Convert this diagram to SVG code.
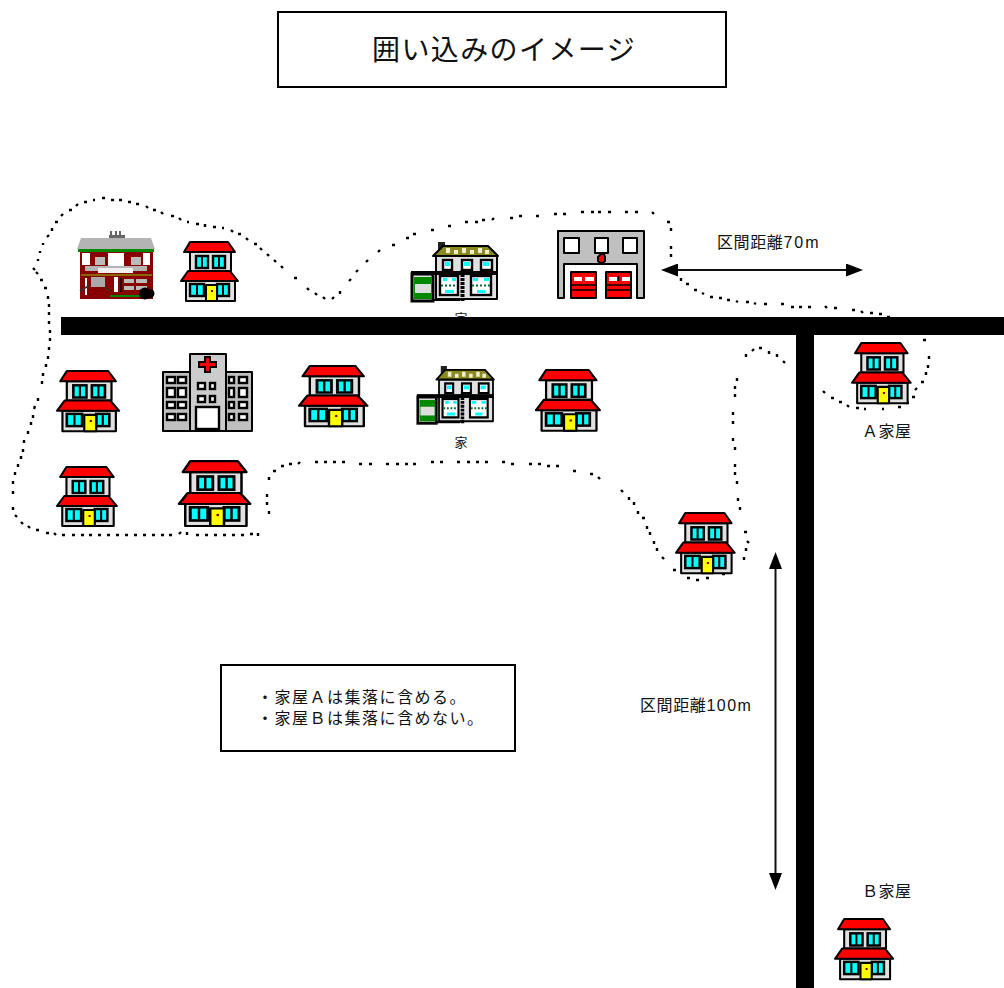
<svg xmlns="http://www.w3.org/2000/svg" width="1004" height="988" viewBox="0 0 1004 988">
<style>
text{font-family:"Liberation Sans","Noto Sans CJK JP",sans-serif;fill:#111}
.box{fill:#fff;stroke:#000;stroke-width:2}
.k{stroke:#000;stroke-width:2;stroke-linejoin:round}
.f{stroke:#000;stroke-width:2.400;stroke-linejoin:miter}
.t{font-size:16px}
.dot{fill:none;stroke:#000;stroke-width:2.400}
.arrow{fill:none;stroke:#111;stroke-width:2}
.w{fill:#fff}.g{fill:#c0c0c0}.lg{fill:#e0e0e0}.r{fill:#f00}.c{fill:#0ff}.y{fill:#ff0}
</style>
<defs>
<marker id="ah" markerWidth="17" markerHeight="13" refX="9" refY="6.500" orient="auto-start-reverse" markerUnits="userSpaceOnUse" viewBox="0 0 17 13"><path d="M0 0L17 6.500L0 13Z" fill="#000"/></marker>
<g id="house">
<rect class="k lg" x="9" y="11" width="41" height="19"/>
<path class="k r" d="M9 1H47L54 11H3Z"/>
<rect class="f c" x="15" y="15" width="12" height="12"/><path class="k" d="M21 15V27" fill="none"/>
<rect class="f c" x="32" y="15" width="12" height="12"/><path class="k" d="M38 15V27" fill="none"/>
<rect class="k lg" x="5" y="40" width="49" height="20"/>
<path class="k r" d="M7 30H49L57 40H0Z"/>
<rect class="f c" x="9" y="43" width="14" height="12"/><path class="k" d="M16 43V55" fill="none"/>
<rect class="f c" x="36" y="43" width="12" height="12"/><path class="k" d="M42 43V55" fill="none"/>
<rect class="k y" x="25" y="44" width="11" height="16"/>
<rect x="30" y="49" width="2" height="2" fill="#800"/>
</g>
<g id="green">
<rect x="28" y="0" width="7" height="10" fill="#222"/>
<path class="k lg" d="M26 14H87V57H26Z"/>
<path class="k" d="M23 14L33 4H78L88 14Z" fill="#8a8a20"/>
<path d="M36 6h4v5h-4zM44 8h4v4h-4zM52 6h4v5h-4zM60 8h4v4h-4zM68 6h4v5h-4zM75 8h4v4h-4z" fill="#f0f0d0"/>
<g class="f w"><rect x="33" y="18" width="9" height="10"/><rect x="52" y="18" width="10" height="10"/><rect x="71" y="18" width="11" height="10"/></g>
<path d="M35 20h5v4h-5zM54 20h6v4h-6zM73 20h6v4h-6z" fill="#0ff"/>
<rect x="1" y="29" width="87" height="4" fill="#000"/>
<rect x="2" y="32" width="21" height="27" fill="#e0e0e0" stroke="#000" stroke-width="3"/>
<rect x="4" y="35" width="18" height="22" fill="#080"/><rect x="5" y="42" width="16" height="9" fill="#ddd"/>
<g class="f w"><rect x="30" y="34" width="18" height="19"/><rect x="61" y="34" width="20" height="19"/></g>
<path d="M33 36h4v3h-4zM42 36h4v3h-4zM35 48h9v3h-9zM63 36h5v3h-5zM74 36h5v3h-5zM67 48h8v3h-8z" fill="#0ff"/>
<path d="M31 43.500H47M62 43.500H80" stroke="#063" stroke-width="2" stroke-dasharray="2 2"/>
<path d="M23 58H50" stroke="#000" stroke-width="2"/>
<path d="M52.500 28V59" stroke="#000" stroke-width="4" stroke-dasharray="3 1"/>
</g>
</defs>

<g id="title"><rect class="box" x="278" y="12" width="448" height="75"/><text x="372" y="60" font-size="28" letter-spacing="1.400">囲い込みのイメージ</text></g>

<g id="label-ie1"><text x="461" y="323" text-anchor="middle" style="font-size:13px">家</text></g>

<g id="roads"><rect x="61" y="317" width="943" height="18" fill="#000"/><rect x="796" y="317" width="18" height="671" fill="#000"/></g>

<g id="connectors">
<path class="dot" d="M258 533v3M250 534h3M241 535h3M232 535h3M223 535h3M214 535h3M205 535h3M196 535h3M187 532v3M179 534l2 -2M169 535h3M161 535h3M152 535h3M143 535h3M134 535h3M125 535h3M116 535h3M107 535h3M98 535h3M89 535h3M81 535h3M72 535h3M62 535h3M54 533l2 2M46 533h3M36 530h3M28 526l2 2M21 522l2 2M15 515l2 2M13 507v3M13 491v3M13 481v3M15 472v3M18 464v3M21 456v3M23 449v3M24 440v3M28 431v3M31 422v3M33 415v3M35 406l-1 3M38 398v3M42 381v3M43 373v3M46 364v3M48 356v3M49 347v3M50 338v3M50 330v3M49 321v3M49 312v3M49 304v3M48 296v3M44 288h3M40 280h3M36 272l2 2M33 268l2 2M38 259v2M40 251v2M43 243v2M47 237l2 -2M52 228v3M55 222h3M61 216l2 -2M69 210h3M76 206l2 -2M84 202h3M93 200h2M102 198h3M111 200h3M119 200h3M128 202h3M136 204h3M146 206l2 2M153 210h3M161 212l2 2M171 216h3M179 218l2 2M187 222h2M196 224h3M205 224v3M213 227h3M222 228h2M231 230l2 2M238 234h3M246 238l2 2M254 244h3M260 248l2 2M267 254l2 2M274 260l2 2M281 266l2 2M294 278h3M307 288l2 2M315 293l2 2M323 297l2 2M332 299l2 -2M340 294v-3M349 281l2 -2M356 272l2 -2M366 262l2 -2M378 252l2 -2M392 245h3M406 238h3M413 234h3M431 230h3M448 226h3M465 222h3M475 222h3M482 220h3M492 220l2 -2M510 218h3M519 216h3M536 216h3M554 214h3M563 214h3M581 212h3M591 212h3M598 212h3M608 212h3M625 212h3M635 212h3M652 212l2 2M667 222h3M671 228v3M671 246v3M671 254v3M681 278v3M686 284h3M694 290h3M702 293l2 1M710 297h3M719 298h3M727 300h3M736 301l2 1M746 302h3M754 303l2 1M764 304h3M781 304h3M791 307h3M799 307h3M808 307h3M825 306l2 2M834 308h3M852 310h3M861 311l2 2M870 313h3M879 314h3M887 317h3"/>
<path class="dot" d="M923 340h3M929 356v3M928 365v3M926 372v3M921 382h3M917 388l-2 2M912 397h3M906 403h3M898 407h3M882 409h2M864 409h2M856 408h3M847 405l2 2M839 402h3M831 398h3M823 391l2 2"/>
<path class="dot" d="M785 363l-2 -2M777 354v3M769 351v3M759 348h3M752 351l2 -2M746 354v3M737 378v3M735 386v3M735 394v3M733 412v3M733 421v3M733 438v3M735 447v3M735 464v3M735 472v3M737 481v3M738 498v3M740 507v3"/>
<path class="dot" d="M744 532h3M747 541l2 2M746 548v3M744 557v3"/>
<path class="dot" d="M722 574h3M706 578h3M696 580h3M687 578h3M673 570h3M662 557l2 2M657 548v3M654 541v3M650 532v3M647 526v3M642 518h3M638 511v3M634 502v3M629 497v3M621 490l2 2M598 477l2 2M590 474h3M573 471h3M556 466h3M547 466h3M538 464h3M529 464h3M511 464h3M502 462h3M485 462h3M476 462h3M467 462h3M457 462h3M440 462h3M431 462h3M413 464h3M405 464h3M396 464h3M386 464h3M369 464h3M359 464h3M342 462h3M333 462h3M324 462h3M315 462h3M298 464l2 -2M289 464h3M281 466h3M273 471h3M269 477v3M267 494v3M267 502v3M269 511v3"/>
<path class="arrow" d="M669 270H855" marker-start="url(#ah)" marker-end="url(#ah)"/>
<path class="arrow" d="M775.500 560V882" marker-start="url(#ah)" marker-end="url(#ah)"/>
</g>

<g id="brick-house">
<rect x="109" y="235" width="16" height="7" fill="#666"/><path d="M111 231V236M116 231V236M120 231V236" stroke="#666" stroke-width="2"/>
<path d="M81 238H151L155 249H77Z" fill="#b4b4b4"/>
<rect x="78" y="249" width="76" height="3" fill="#080"/>
<rect x="80" y="252" width="73" height="47" fill="#800"/>
<rect x="82" y="253" width="8" height="12" fill="#fff"/><rect x="108" y="253" width="16" height="13" fill="#fff"/><rect x="143" y="253" width="7" height="12" fill="#fff"/>
<rect x="95" y="257" width="10" height="8" fill="#bbb"/><rect x="131" y="257" width="10" height="8" fill="#bbb"/>
<rect x="85" y="266" width="62" height="5" fill="#b4b4b4"/><rect x="98" y="268" width="35" height="5" fill="#eee"/>
<path d="M81 275H152" stroke="#880" stroke-width="1.500"/>
<rect x="91" y="277" width="14" height="10" fill="#aaa"/><rect x="85" y="278" width="2" height="17" fill="#fff"/><rect x="114" y="277" width="4" height="15" fill="#fff"/><rect x="120" y="278" width="2" height="14" fill="#111"/><rect x="124" y="279" width="10" height="4" fill="#bbb"/><rect x="136" y="279" width="11" height="4" fill="#bbb"/><rect x="124" y="286" width="10" height="4" fill="#bbb"/><rect x="136" y="286" width="11" height="4" fill="#bbb"/>
<path d="M80 291L90 285M105 287L110 291" stroke="#333" stroke-width="1.500" fill="none"/>
<rect x="110" y="295" width="32" height="2" fill="#080"/>
<circle cx="145" cy="293.500" r="6" fill="#000"/><circle cx="150" cy="293.500" r="4.500" fill="#000"/>
</g>
<use id="house-1" href="#house" transform="translate(181 241)"/>
<use id="green-1" href="#green" transform="translate(410 242)"/>
<g id="fire-station">
<path class="k g" d="M558 231H644V298H637V264H564V298H558Z"/>
<rect class="k w" x="564" y="238" width="15" height="15"/><rect class="k w" x="595" y="238" width="13" height="15"/><rect class="k w" x="623" y="238" width="14" height="15"/>
<path d="M598 257L601 254H604L605 257V261L603 263H600L598 261Z" fill="#f00" stroke="#000" stroke-width="2"/>
<rect class="k r" x="571" y="272" width="25" height="26"/><rect class="k r" x="606" y="272" width="25" height="26"/>
<rect x="574" y="277" width="8" height="4" fill="#fff"/><rect x="585" y="277" width="9" height="4" fill="#fff"/><rect x="609" y="277" width="8" height="4" fill="#fff"/><rect x="622" y="277" width="8" height="4" fill="#fff"/>
<path d="M571 285H596M571 290H596M606 285H631M606 290H631M618.500 276V281" stroke="#000" stroke-width="1.500"/>
</g>
<use id="house-2" href="#house" transform="translate(57 370) scale(1.09 1.02)"/>
<g id="hospital">
<rect class="k g" x="163" y="372" width="89" height="59"/>
<rect class="k" style="fill:#ccc" x="190" y="354" width="36" height="77"/>
<path d="M205 357h5v5h6v5h-6v5h-5v-5h-6v-5h6Z" fill="#f00" stroke="#000" stroke-width="2"/>
<g class="f w"><rect x="167" y="377" width="8" height="6"/><rect x="178" y="377" width="8" height="6"/><rect x="167" y="388" width="8" height="9"/><rect x="178" y="388" width="8" height="9"/><rect x="167" y="402" width="8" height="6"/><rect x="178" y="402" width="8" height="6"/><rect x="167" y="414" width="8" height="6"/><rect x="178" y="414" width="8" height="6"/>
<rect x="198" y="383" width="7" height="6"/><rect x="210" y="383" width="5" height="6"/><rect x="198" y="396" width="7" height="6"/><rect x="210" y="396" width="5" height="6"/>
<rect x="229" y="377" width="5" height="6"/><rect x="239" y="377" width="8" height="6"/><rect x="229" y="388" width="5" height="9"/><rect x="239" y="388" width="8" height="9"/><rect x="229" y="402" width="5" height="6"/><rect x="239" y="402" width="8" height="6"/><rect x="229" y="414" width="5" height="6"/><rect x="239" y="414" width="8" height="6"/>
<rect x="196" y="407" width="23" height="22"/></g>
</g>
<use id="house-3" href="#house" transform="translate(299 365) scale(1.2 1.02)"/>
<use id="green-2" href="#green" transform="translate(416 366) scale(.885 .97)"/>
<use id="house-4" href="#house" transform="translate(536 369) scale(1.12 1.03)"/>
<use id="house-5" href="#house" transform="translate(57 466) scale(1.05 1)"/>
<use id="house-6" href="#house" transform="translate(179 460) scale(1.25 1.1)"/>
<use id="house-a" href="#house" transform="translate(852 342) scale(1.03 1.02)"/>
<use id="house-c" href="#house" transform="translate(676 512) scale(1.03 1.02)"/>
<use id="house-b" href="#house" transform="translate(835 918) scale(1.02 1.02)"/>

<g id="labels">
<text x="461" y="447" text-anchor="middle" style="font-size:13px">家</text>
<text class="t" x="717" y="248" letter-spacing=".6">区間距離<tspan letter-spacing="2">70m</tspan></text>
<text class="t" x="640" y="711" letter-spacing=".6">区間距離<tspan letter-spacing="1.500">100m</tspan></text>
<text class="t" x="862" y="437" letter-spacing=".5">Ａ家屋</text>
<text class="t" x="862" y="897" letter-spacing=".5">Ｂ家屋</text>
</g>
<g id="note"><rect class="box" x="221" y="665" width="294" height="86"/>
<text class="t" x="257" y="703" letter-spacing="1.500">・家屋Ａは集落に含める。<tspan x="257" dy="20.500">・家屋Ｂは集落に含めない。</tspan></text></g>
</svg>
